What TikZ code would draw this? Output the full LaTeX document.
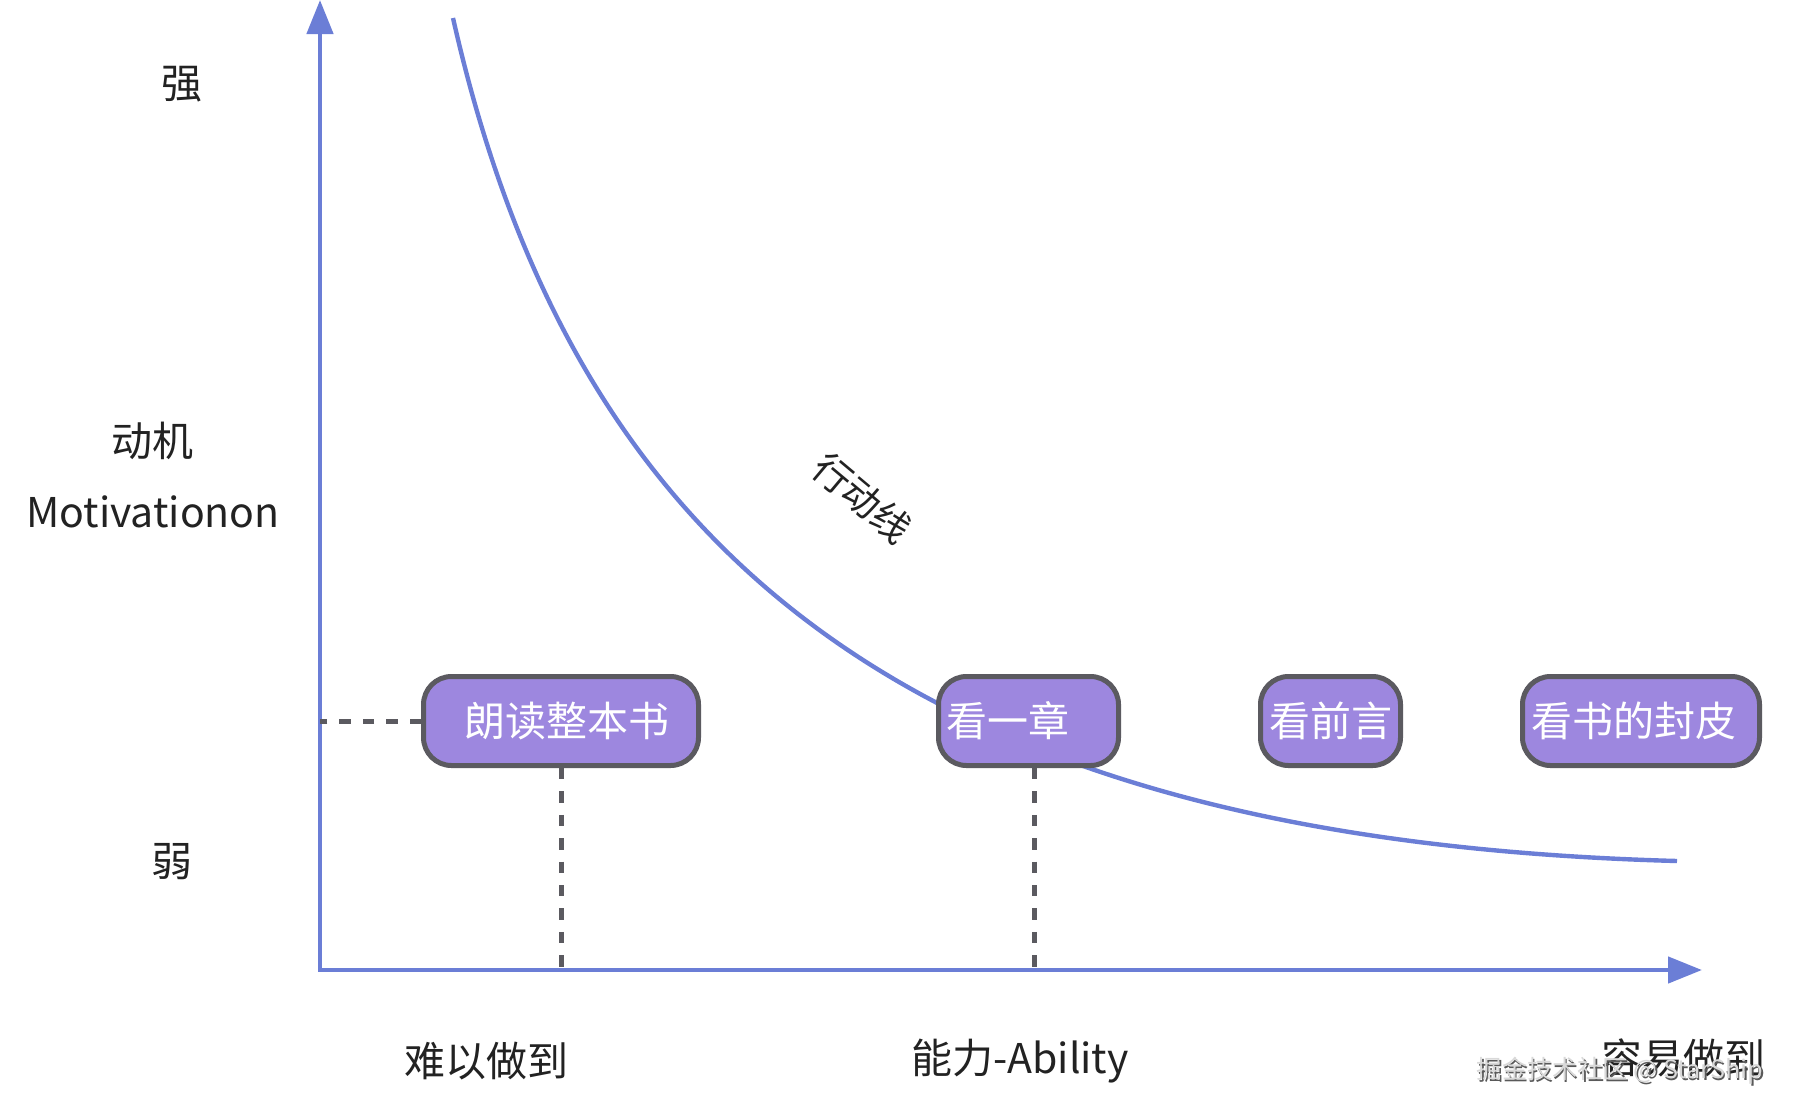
\documentclass[tikz,border=0pt]{standalone}
\usepackage{fontspec}
\setmainfont{Noto Sans CJK SC}
\usetikzlibrary{arrows.meta}
\definecolor{axisblue}{HTML}{6B7ED6}
\definecolor{boxfill}{HTML}{9D87DF}
\definecolor{boxline}{HTML}{5B5A60}
\definecolor{ink}{HTML}{222222}
\begin{document}
\begin{tikzpicture}[x=0.5pt,y=-0.5pt,
 axis/.style={draw=axisblue, line width=2.3pt, line cap=rect, -{Triangle[length=17pt,width=13pt]}},
 actline/.style={draw=axisblue, line width=2.2pt},
 guide/.style={draw=boxline, line width=2.5pt, dash pattern=on 5.7pt off 6pt},
 act/.style={draw=boxline, fill=boxfill, line width=2.5pt, rounded corners=14pt, minimum height=44.5pt, inner sep=0pt, text=white, font=\fontsize{20.5pt}{24pt}\selectfont},
 lab/.style={text=ink, font=\fontsize{20.5pt}{24pt}\selectfont, inner sep=0pt},
]
\useasboundingbox (0,0) rectangle (1794,1114);
\coordinate (o) at (320,970);
\coordinate (ytop) at (320,0);
\coordinate (xend) at (1702,970);
\coordinate (cs) at (453,18);
\coordinate (ce) at (1677,861);
% action line
\draw[actline] (cs) .. controls (572,545) and (900,840) .. (ce);
% axes
\draw[axis] (o) -- (ytop);
\draw[axis] (o) -- (xend);
% boxes
\node[act, minimum width=137.5pt] (b1) at (561,721) {\hspace{6pt}朗读整本书};
\node[act, minimum width=90pt] (b2) at (1028.5,721) {看一章\hspace{21pt}\mbox{}};
\node[act, minimum width=70pt] (b3) at (1330.5,721) {看前言};
\node[act, minimum width=118.5pt] (b4) at (1641,721) {看书的封皮\hspace{7pt}\mbox{}};
% guides
\coordinate (b2d) at ([xshift=2.75pt]b2.south);
\draw[guide] (b1.west) -- (b1.west -| o);
\draw[guide] (b1.south) -- (b1.south |- o);
\draw[guide] (b2d) -- (b2d |- o);
% labels
\node[lab] (strong) at (182,84) {强};
\node[lab] (mot1) at (152,441) {动机};
\node[lab, anchor=base] (mot2) at (153,527) {Motivationon};
\node[lab] (weak) at (172,862) {弱};
\node[lab] (hard) at (486,1061) {难以做到};
\node[lab] (abil) at (1020,1061) {能力-Ability};
\node[lab] (easy) at (1683,1058) {容易做到};
\node[lab, rotate=-40, font=\fontsize{19pt}{22pt}\selectfont] (actlab) at (862,498) {行动线};
% watermark
\node[inner sep=0pt, text=black!65, font=\fontsize{12.6pt}{14pt}\selectfont] (wm0) at (1621.5,1072.5) {掘金技术社区 @ StarShip};
\node[inner sep=0pt, text=black!15, font=\fontsize{12.6pt}{14pt}\selectfont] (wm) at (1620,1071) {掘金技术社区 @ StarShip};
\end{tikzpicture}
\end{document}
